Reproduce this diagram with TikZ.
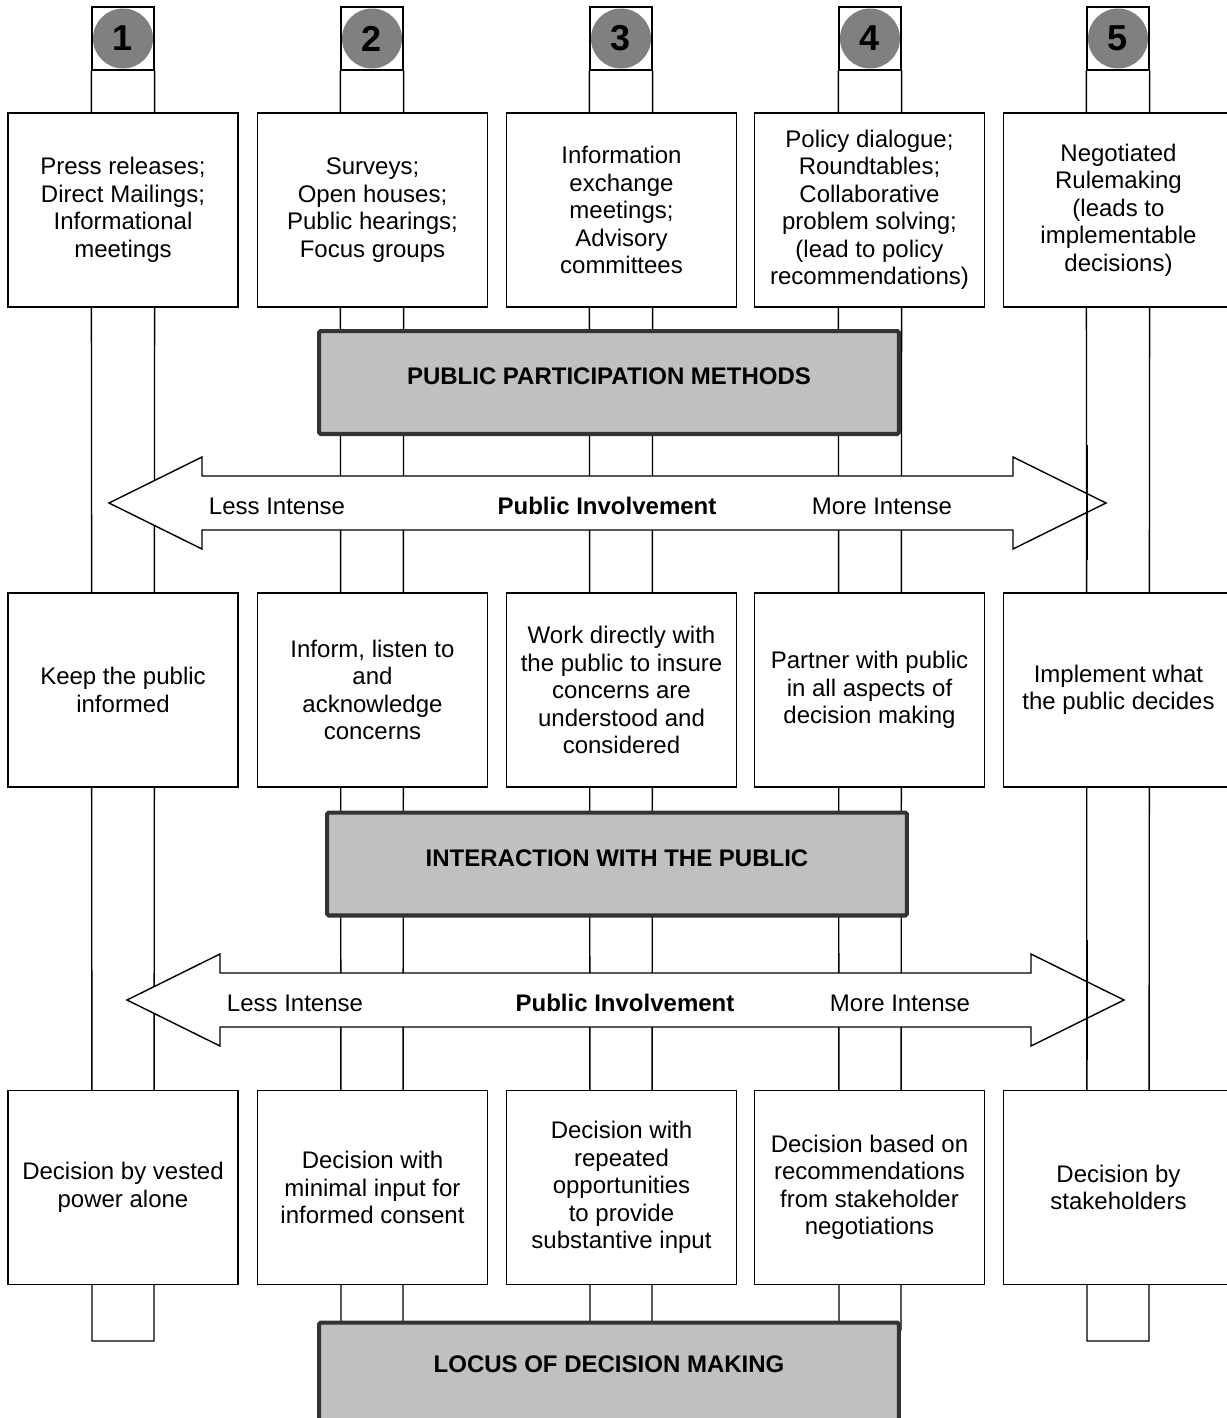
\documentclass[tikz,border=0pt]{standalone}
\usepackage{fontspec}
\setmainfont{Liberation Sans}
\usetikzlibrary{positioning}
\definecolor{boxgray}{HTML}{C0C0C0}
\definecolor{numgray}{HTML}{808080}
\definecolor{rimgray}{HTML}{333333}
\tikzset{level box/.style={draw,fill=white,line width=0.8pt,minimum width=4.6cm,minimum height=3.88cm,inner sep=2pt,align=center,font=\fontsize{13.66}{15.65}\selectfont},
         title box/.style={draw=rimgray,line width=2.3pt,fill=boxgray,rounded corners=1pt,minimum width=11.6cm,minimum height=2.06cm,text depth=0.24cm,font=\bfseries\fontsize{13.66}{15.65}\selectfont},
         num square/.style={draw,line width=0.8pt,minimum width=1.24cm,minimum height=1.26cm,inner sep=0pt},
         num circle/.style={circle,fill=numgray,minimum size=1.2cm,inner sep=0pt,font=\bfseries\fontsize{20.5}{24}\selectfont},
         post/.style={line width=0.8pt},
         fat arrow/.style={draw,fill=white,line width=0.8pt},
         arrow text/.style={font=\fontsize{13.66}{15.65}\selectfont}}
\begin{document}
\begin{tikzpicture}[x=0.02cm,y=-0.02cm]
\useasboundingbox (0,0) rectangle (1227,1418);

% posts with number tags
\foreach \i/\x/\b in {1/123/1341,2/372/1330,3/621/1330,4/870/1330,5/1118/1341}{
  \node[num circle] (c\i) at (\x,38.5) {\i};
  \node[num square] (n\i) at (\x,38.5) {};
  \draw[post] (n\i.south west) -- ({\x-31},\b) -- ({\x+31},\b) -- (n\i.south east);
}

% methods
\node[level box] (m1) at (123,210) {Press releases;\\Direct Mailings;\\Informational\\meetings};
\node[level box] (m2) at (372.5,210) {Surveys;\\Open houses;\\Public hearings;\\Focus groups};
\node[level box] (m3) at (621.5,210) {Information\\exchange\\meetings;\\Advisory\\committees};
\node[level box] (m4) at (869.5,210) {Policy dialogue;\\Roundtables;\\Collaborative\\problem solving;\\(lead to policy\\recommendations)};
\node[level box] (m5) at (1118.5,210) {Negotiated\\Rulemaking\\(leads to\\implementable\\decisions)};
\node[title box] (methods) at (609,382.5) {PUBLIC PARTICIPATION METHODS};

% interaction
\node[level box] (i1) at (123,690) {Keep the public\\informed};
\node[level box] (i2) at (372.5,690) {Inform, listen to\\and\\acknowledge\\concerns};
\node[level box] (i3) at (621.5,690) {Work directly with\\the public to insure\\concerns are\\understood and\\considered};
\node[level box] (i4) at (869.5,690) {Partner with public\\in all aspects of\\decision making};
\node[level box] (i5) at (1118.5,690) {Implement what\\the public decides};
\node[title box] (interact) at (617,864) {INTERACTION WITH THE PUBLIC};

% decision making
\node[level box] (d1) at (123,1187.5) {Decision by vested\\power alone};
\node[level box] (d2) at (372.5,1187.5) {Decision with\\minimal input for\\informed consent};
\node[level box] (d3) at (621.5,1187.5) {Decision with\\repeated\\opportunities\\to provide\\substantive input};
\node[level box] (d4) at (869.5,1187.5) {Decision based on\\recommendations\\from stakeholder\\negotiations};
\node[level box] (d5) at (1118.5,1187.5) {Decision by\\stakeholders};
\node[title box,text depth=0.4cm] (locus) at (609,1374) {LOCUS OF DECISION MAKING};

% involvement arrows
\foreach \k/\dx/\dy in {1/0/0,2/18/497}{
  \begin{scope}[shift={(\dx,\dy)}]
    \draw[fat arrow] (109,503) -- (202,457) -- (202,476) -- (1013,476) -- (1013,457) -- (1106,503)
      -- (1013,549) -- (1013,530) -- (202,530) -- (202,549) -- cycle;
    \node[arrow text] (less\k) at (277,506) {Less Intense};
    \node[arrow text,font=\bfseries\fontsize{13.66}{15.65}\selectfont] (inv\k) at (607,506) {Public Involvement};
    \node[arrow text] (more\k) at (882,506) {More Intense};
  \end{scope}
}
\draw[post] (1087,445) -- (1087,560);
\draw[post] (1087,940) -- (1087,1060);
\end{tikzpicture}
\end{document}
